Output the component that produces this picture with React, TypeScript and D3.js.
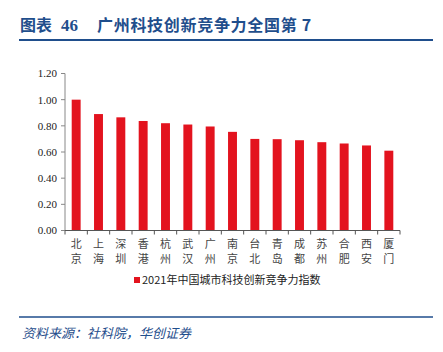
import React from 'react';
import * as d3 from 'd3';

const cities = ['北京', '上海', '深圳', '香港', '杭州', '武汉', '广州', '南京', '台北', '青岛', '成都', '苏州', '合肥', '西安', '厦门'];
const values = [1.0, 0.89, 0.865, 0.837, 0.82, 0.81, 0.795, 0.754, 0.70, 0.698, 0.69, 0.675, 0.665, 0.65, 0.61];
const yTicks = [0, 0.2, 0.4, 0.6, 0.8, 1.0, 1.2];
const seriesName = '2021年中国城市科技创新竞争力指数';
const titleLabel = '图表';
const titleNum = '46';
const titleText = '广州科技创新竞争力全国第 7';
const source = '资料来源：社科院，华创证券';

const W = 443;
const H = 352;
const margin = { left: 65, right: 43, top: 73.5, bottom: 121.5 };
const blue = '#1f4e8c';
const red = '#e3131e';
const cjk = "'Noto Sans CJK SC'";

export default function App() {
  const innerW = W - margin.left - margin.right;
  const innerH = H - margin.top - margin.bottom;

  const x = d3.scaleBand<string>().domain(cities).range([0, innerW]).paddingInner(0.6).paddingOuter(0.3);
  const y = d3.scaleLinear().domain([0, 1.2]).range([innerH, 0]);
  const step = innerW / cities.length;

  return (
    <svg width={W} height={H} style={{ position: 'absolute', left: 0, top: 0, background: '#fff' }}>
      {/* Title */}
      <g fill={blue} fontFamily={cjk} fontWeight="bold" fontSize={16}>
        <text x={20} y={31}>{titleLabel}</text>
        <text x={61} y={31} fontFamily="'Liberation Serif'" fontSize={17}>{titleNum}</text>
        <text x={97} y={31} letterSpacing={0.7}>{titleText}</text>
      </g>
      <line x1={19} x2={433} y1={40} y2={40} stroke={blue} strokeWidth={2} />

      <g transform={`translate(${margin.left},${margin.top})`}>
        {/* Y axis */}
        <line x1={0} x2={0} y1={0} y2={innerH} stroke="#888" strokeWidth={1} />
        {yTicks.map(t => (
          <g key={t} transform={`translate(0,${y(t)})`}>
            <line x1={-4} x2={0} stroke="#888" />
            <text x={-8} dy="0.35em" textAnchor="end" fontFamily="'Liberation Serif'" fontSize={11} fill="#222">
              {t.toFixed(2)}
            </text>
          </g>
        ))}

        {/* Bars */}
        {cities.map((c, i) => (
          <rect key={c} x={x(c)} y={y(values[i])} width={x.bandwidth()} height={innerH - y(values[i])} fill={red} />
        ))}

        {/* X axis */}
        <line x1={0} x2={innerW} y1={innerH} y2={innerH} stroke="#555" strokeWidth={1} />
        {d3.range(cities.length + 1).map(i => (
          <line key={i} x1={i * step} x2={i * step} y1={innerH} y2={innerH + 4} stroke="#555" />
        ))}
        {cities.map(c => {
          const cx = (x(c) ?? 0) + x.bandwidth() / 2;
          return (
            <g key={c} fontFamily={cjk} fontSize={11} fill="#444" textAnchor="middle">
              <text x={cx} y={innerH + 17}>{c[0]}</text>
              <text x={cx} y={innerH + 32}>{c[1]}</text>
            </g>
          );
        })}
      </g>

      {/* Legend */}
      <rect x={134} y={277} width={6} height={6} fill={red} />
      <text x={142} y={284} fontFamily={cjk} fontSize={11} fill="#222">
        {seriesName}
      </text>

      {/* Footer */}
      <line x1={19} x2={433} y1={317} y2={317} stroke={blue} strokeWidth={1.5} />
      <text x={22} y={338} fill={blue} fontFamily={cjk} fontStyle="italic" fontSize={13}>
        {source}
      </text>
    </svg>
  );
}
